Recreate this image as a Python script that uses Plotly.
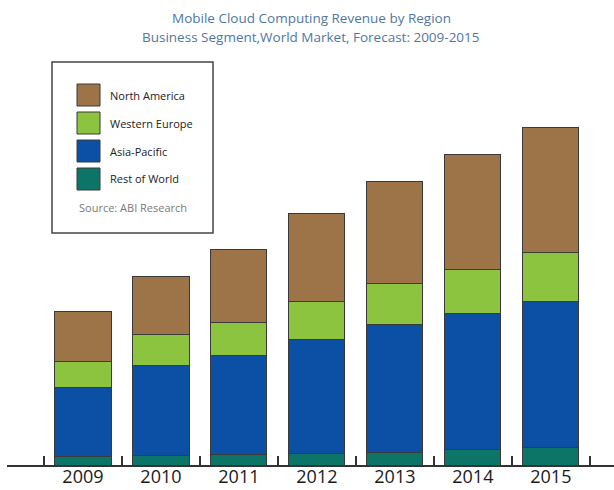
import plotly.graph_objects as go

years = ["2009", "2010", "2011", "2012", "2013", "2014", "2015"]
rest_of_world = [9, 10, 11, 12, 13, 16, 18]
asia_pacific = [69, 90, 99, 114, 128, 136, 146]
western_europe = [26, 31, 33, 38, 41, 44, 49]
north_america = [50, 58, 73, 88, 102, 115, 125]

series_names = ["Rest of World", "Asia-Pacific", "Western Europe", "North America"]
series_values = [rest_of_world, asia_pacific, western_europe, north_america]
series_colors = ["#0d7468", "#0b50a5", "#8cc33f", "#9c7447"]

W, H = 614, 490
L, T, B = 7, 0, 25
PW, PH = W - L, H - T - B

fig = go.Figure()
for name, vals, col in zip(series_names, series_values, series_colors):
    fig.add_trace(go.Bar(x=years, y=vals, name=name, marker_color=col,
                         marker_line=dict(color="#3a3a3a", width=1), showlegend=False))

def px(x):
    return (x - L) / PW

def py(y):
    return (H - B - y) / PH

shapes = [dict(type="rect", xref="paper", yref="paper", x0=px(52), x1=px(213), y0=py(233), y1=py(62),
               line=dict(color="#444444", width=1.5), fillcolor="white", layer="above")]
annotations = []
legend_order = ["North America", "Western Europe", "Asia-Pacific", "Rest of World"]
for i, name in enumerate(legend_order):
    col = series_colors[series_names.index(name)]
    top = 84 + i * 28
    shapes.append(dict(type="rect", xref="paper", yref="paper", x0=px(77), x1=px(100),
                       y0=py(top + 22), y1=py(top), fillcolor=col,
                       line=dict(color="#3a3a3a", width=1), layer="above"))
    annotations.append(dict(xref="paper", yref="paper", x=px(108), y=py(top + 11), text=name,
                            showarrow=False, xanchor="left", yanchor="middle",
                            font=dict(family="Open Sans", size=11, color="#222222")))
annotations.append(dict(xref="paper", yref="paper", x=px(77), y=py(207), text="Source: ABI Research",
                        showarrow=False, xanchor="left", yanchor="middle",
                        font=dict(family="Open Sans", size=11, color="#7a7a7a")))
annotations.append(dict(xref="paper", yref="paper", x=px(311), y=py(18),
                        text="Mobile Cloud Computing Revenue by Region", showarrow=False,
                        xanchor="center", yanchor="middle",
                        font=dict(family="Open Sans", size=13.5, color="#4f77a3")))
annotations.append(dict(xref="paper", yref="paper", x=px(311), y=py(37),
                        text="Business Segment,World Market, Forecast: 2009-2015", showarrow=False,
                        xanchor="center", yanchor="middle",
                        font=dict(family="Open Sans", size=13.5, color="#4f77a3")))

fig.update_layout(
    width=W, height=H, barmode="stack", bargap=0.28,
    margin=dict(l=L, r=0, t=T, b=B, autoexpand=False),
    paper_bgcolor="white", plot_bgcolor="white",
    shapes=shapes, annotations=annotations,
    xaxis=dict(type="category", range=[-0.974, 6.81], showline=True, linecolor="#333333", linewidth=1.5,
               ticks="inside", ticklen=9, tickwidth=1.5, tickcolor="#333333", tickson="boundaries",
               showgrid=False, zeroline=False, automargin=False, ticklabelstandoff=-5,
               tickfont=dict(family="Open Sans", size=18, color="#1a1a1a")),
    yaxis=dict(range=[0, PH], visible=False, showgrid=False, zeroline=False),
)

fig.write_html("out.html")
